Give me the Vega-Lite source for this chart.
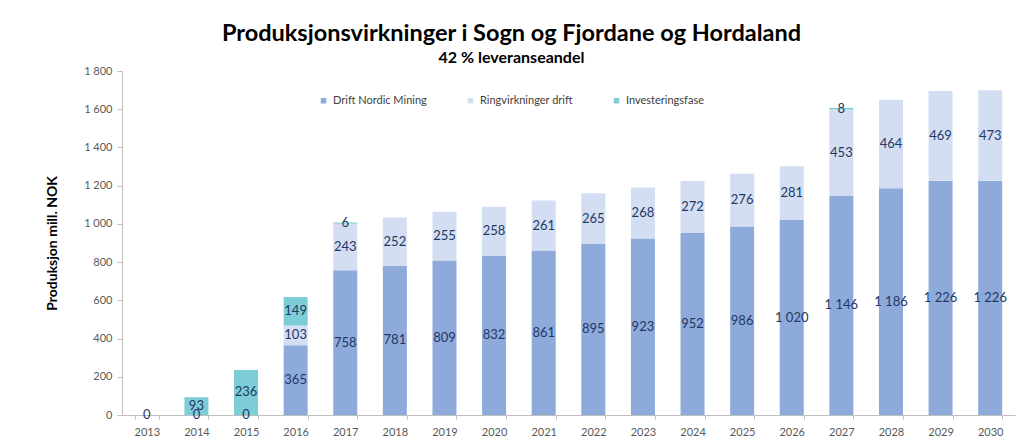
{
  "$schema": "https://vega.github.io/schema/vega-lite/v6.json",
  "width": 893,
  "height": 344,
  "autosize": {"type": "none"},
  "padding": {"left": 122, "top": 71, "right": 6, "bottom": 32},
  "background": "white",
  "config": {
    "font": "Lato",
    "view": {"stroke": null},
    "axis": {"grid": false}
  },
  "title": {
    "text": "Produksjonsvirkninger i Sogn og Fjordane og Hordaland",
    "subtitle": "42 % leveranseandel",
    "anchor": "middle",
    "dx": -57,
    "offset": -1,
    "font": "Lato",
    "fontSize": 23.5,
    "fontWeight": "bold",
    "color": "#000000",
    "subtitleFont": "Lato",
    "subtitleFontSize": 16,
    "subtitleFontWeight": "bold",
    "subtitleColor": "#000000",
    "subtitlePadding": 5
  },
  "data": {
    "values": [
      {"year": "2013", "serie": "Drift Nordic Mining", "value": 0},
      {"year": "2014", "serie": "Drift Nordic Mining", "value": 0},
      {"year": "2015", "serie": "Drift Nordic Mining", "value": 0},
      {"year": "2016", "serie": "Drift Nordic Mining", "value": 365},
      {"year": "2017", "serie": "Drift Nordic Mining", "value": 758},
      {"year": "2018", "serie": "Drift Nordic Mining", "value": 781},
      {"year": "2019", "serie": "Drift Nordic Mining", "value": 809},
      {"year": "2020", "serie": "Drift Nordic Mining", "value": 832},
      {"year": "2021", "serie": "Drift Nordic Mining", "value": 861},
      {"year": "2022", "serie": "Drift Nordic Mining", "value": 895},
      {"year": "2023", "serie": "Drift Nordic Mining", "value": 923},
      {"year": "2024", "serie": "Drift Nordic Mining", "value": 952},
      {"year": "2025", "serie": "Drift Nordic Mining", "value": 986},
      {"year": "2026", "serie": "Drift Nordic Mining", "value": 1020},
      {"year": "2027", "serie": "Drift Nordic Mining", "value": 1146},
      {"year": "2028", "serie": "Drift Nordic Mining", "value": 1186},
      {"year": "2029", "serie": "Drift Nordic Mining", "value": 1226},
      {"year": "2030", "serie": "Drift Nordic Mining", "value": 1226},
      {"year": "2016", "serie": "Ringvirkninger drift", "value": 103},
      {"year": "2017", "serie": "Ringvirkninger drift", "value": 243},
      {"year": "2018", "serie": "Ringvirkninger drift", "value": 252},
      {"year": "2019", "serie": "Ringvirkninger drift", "value": 255},
      {"year": "2020", "serie": "Ringvirkninger drift", "value": 258},
      {"year": "2021", "serie": "Ringvirkninger drift", "value": 261},
      {"year": "2022", "serie": "Ringvirkninger drift", "value": 265},
      {"year": "2023", "serie": "Ringvirkninger drift", "value": 268},
      {"year": "2024", "serie": "Ringvirkninger drift", "value": 272},
      {"year": "2025", "serie": "Ringvirkninger drift", "value": 276},
      {"year": "2026", "serie": "Ringvirkninger drift", "value": 281},
      {"year": "2027", "serie": "Ringvirkninger drift", "value": 453},
      {"year": "2028", "serie": "Ringvirkninger drift", "value": 464},
      {"year": "2029", "serie": "Ringvirkninger drift", "value": 469},
      {"year": "2030", "serie": "Ringvirkninger drift", "value": 473},
      {"year": "2014", "serie": "Investeringsfase", "value": 93},
      {"year": "2015", "serie": "Investeringsfase", "value": 236},
      {"year": "2016", "serie": "Investeringsfase", "value": 149},
      {"year": "2017", "serie": "Investeringsfase", "value": 6},
      {"year": "2027", "serie": "Investeringsfase", "value": 8}
    ]
  },
  "transform": [
    {"calculate": "indexof(['Drift Nordic Mining','Ringvirkninger drift','Investeringsfase'], datum.serie)", "as": "ord"},
    {"stack": "value", "groupby": ["year"], "sort": [{"field": "ord", "order": "ascending"}], "as": ["y0", "y1"]},
    {"calculate": "(datum.y0 + datum.y1) / 2", "as": "ymid"},
    {"calculate": "replace(format(datum.value, ','), ',', ' ')", "as": "lbl"}
  ],
  "encoding": {
    "x": {
      "field": "year",
      "type": "ordinal",
      "scale": {"paddingInner": 0.516, "paddingOuter": 0.258},
      "axis": {
        "title": null,
        "labelAngle": 0,
        "labelFont": "Lato",
        "labelFontSize": 11,
        "labelColor": "#595959",
        "labelPadding": 7,
        "domainColor": "#bfbfbf",
        "tickColor": "#bfbfbf",
        "tickBand": "extent",
        "tickSize": 4
      }
    }
  },
  "resolve": {"axis": {"y": "independent"}},
  "layer": [
    {
      "mark": {"type": "bar"},
      "encoding": {
        "y": {
          "field": "y0",
          "type": "quantitative",
          "scale": {"domain": [0, 1800]},
          "axis": {
            "title": "Produksjon mill. NOK",
            "titleFont": "Lato",
            "titleFontSize": 14,
            "titleFontWeight": "bold",
            "titleColor": "#000000",
            "titlePadding": 24,
            "values": [0, 200, 400, 600, 800, 1000, 1200, 1400, 1600, 1800],
            "labelOverlap": false,
            "labelBound": false,
            "labelFlush": false,
            "labelExpr": "replace(format(datum.value, ','), ',', ' ')",
            "labelFont": "Lato",
            "labelFontSize": 11,
            "labelColor": "#595959",
            "labelPadding": 5,
            "domainColor": "#bfbfbf",
            "tickColor": "#bfbfbf",
            "tickSize": 5
          }
        },
        "y2": {"field": "y1"},
        "color": {
          "field": "serie",
          "type": "nominal",
          "scale": {
            "domain": ["Drift Nordic Mining", "Ringvirkninger drift", "Investeringsfase"],
            "range": ["#8eaadb", "#d3def2", "#7ccdd6"]
          },
          "legend": {
            "title": null,
            "orient": "none",
            "direction": "horizontal",
            "legendX": 196,
            "legendY": 24,
            "symbolType": "square",
            "symbolSize": 30,
            "symbolStrokeWidth": 0,
            "labelFont": "Lato",
            "labelFontSize": 11,
            "labelColor": "#404040",
            "labelOffset": 4,
            "columnPadding": 38
          }
        }
      }
    },
    {
      "mark": {"type": "text", "font": "Lato", "fontSize": 13, "color": "#1f3864", "baseline": "middle", "align": "center"},
      "encoding": {
        "y": {"field": "ymid", "type": "quantitative", "scale": {"domain": [0, 1800]}, "axis": null},
        "text": {"field": "lbl", "type": "nominal"}
      }
    }
  ]
}
